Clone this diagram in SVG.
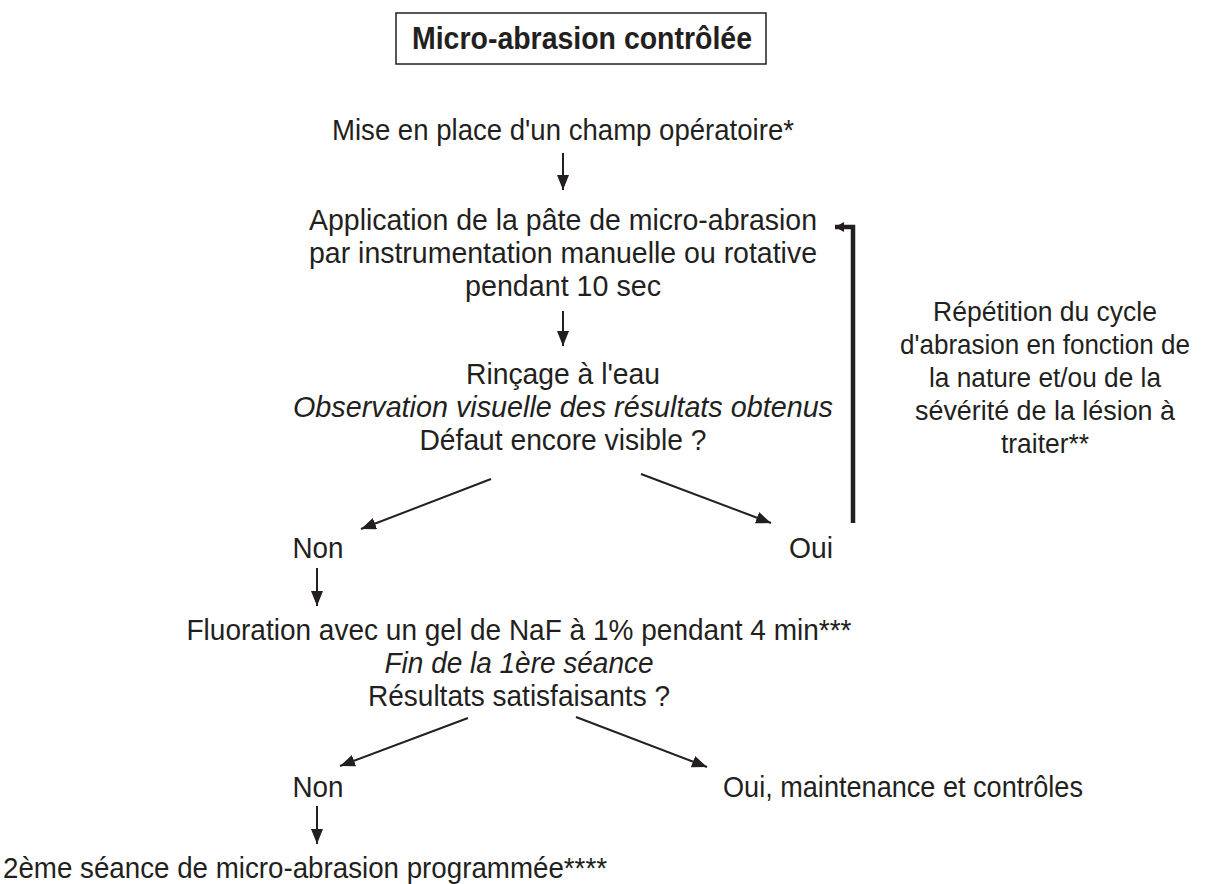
<svg xmlns="http://www.w3.org/2000/svg" width="1209" height="884" viewBox="0 0 1209 884">
<style>
  text { font-family: "Liberation Sans", Arial, sans-serif; font-size: 30px; fill: #231f20; }
  .c { text-anchor: middle; }
  .i { font-style: italic; }
  .b { font-weight: bold; font-size: 32px; }
  .r { font-size: 27.5px; }
  .ln { stroke: #231f20; stroke-width: 2; fill: none; }
  .thick { stroke: #231f20; stroke-width: 4.5; fill: none; }
</style>
<defs>
  <marker id="ah" markerUnits="userSpaceOnUse" markerWidth="16" markerHeight="12" refX="15" refY="6" orient="auto">
    <path d="M0,0 L15,6 L0,12 Z" fill="#231f20"/>
  </marker>
  <marker id="ahs" markerUnits="userSpaceOnUse" markerWidth="10" markerHeight="10" refX="9" refY="5" orient="auto">
    <path d="M0,0 L9,5 L0,10 Z" fill="#231f20"/>
  </marker>
</defs>
<rect width="1209" height="884" fill="#ffffff"/>

<g id="title">
  <rect x="396" y="13" width="370" height="51" fill="#ffffff" stroke="#231f20" stroke-width="1.5"/>
  <text class="b c" x="582" y="49" textLength="340" lengthAdjust="spacingAndGlyphs">Micro-abrasion contrôlée</text>
</g>

<g id="champ">
  <text class="c" x="563" y="140" textLength="462" lengthAdjust="spacingAndGlyphs">Mise en place d'un champ opératoire*</text>
</g>

<g id="application">
  <text class="c" x="563" y="230" textLength="508" lengthAdjust="spacingAndGlyphs">Application de la pâte de micro-abrasion</text>
  <text class="c" x="563" y="263" textLength="508" lengthAdjust="spacingAndGlyphs">par instrumentation manuelle ou rotative</text>
  <text class="c" x="563" y="296" textLength="196" lengthAdjust="spacingAndGlyphs">pendant 10 sec</text>
</g>

<g id="rincage">
  <text class="c" x="563" y="384" textLength="194" lengthAdjust="spacingAndGlyphs">Rinçage à l'eau</text>
  <text class="c i" x="563" y="417" textLength="540" lengthAdjust="spacingAndGlyphs">Observation visuelle des résultats obtenus</text>
  <text class="c" x="563" y="450" textLength="287" lengthAdjust="spacingAndGlyphs">Défaut encore visible ?</text>
</g>

<g id="repetition">
  <text class="c r" x="1045" y="321" textLength="224" lengthAdjust="spacingAndGlyphs">Répétition du cycle</text>
  <text class="c r" x="1045" y="354" textLength="290" lengthAdjust="spacingAndGlyphs">d'abrasion en fonction de</text>
  <text class="c r" x="1045" y="387" textLength="232" lengthAdjust="spacingAndGlyphs">la nature et/ou de la</text>
  <text class="c r" x="1045" y="420" textLength="260" lengthAdjust="spacingAndGlyphs">sévérité de la lésion à</text>
  <text class="c r" x="1045" y="453" textLength="88" lengthAdjust="spacingAndGlyphs">traiter**</text>
</g>

<g id="non1">
  <text class="c" x="318" y="558" textLength="51" lengthAdjust="spacingAndGlyphs">Non</text>
</g>

<g id="oui1">
  <text class="c" x="811" y="558" textLength="44" lengthAdjust="spacingAndGlyphs">Oui</text>
</g>

<g id="fluoration">
  <text class="c" x="519" y="640" textLength="665" lengthAdjust="spacingAndGlyphs">Fluoration avec un gel de NaF à 1% pendant 4 min***</text>
  <text class="c i" x="519" y="673" textLength="269" lengthAdjust="spacingAndGlyphs">Fin de la 1ère séance</text>
  <text class="c" x="519" y="706" textLength="302" lengthAdjust="spacingAndGlyphs">Résultats satisfaisants ?</text>
</g>

<g id="non2">
  <text class="c" x="318" y="797" textLength="51" lengthAdjust="spacingAndGlyphs">Non</text>
</g>

<g id="oui2">
  <text x="723" y="797" textLength="360" lengthAdjust="spacingAndGlyphs">Oui, maintenance et contrôles</text>
</g>

<g id="seance2">
  <text x="3" y="878" textLength="604" lengthAdjust="spacingAndGlyphs">2ème séance de micro-abrasion programmée****</text>
</g>

<g id="connectors">
  <line class="ln" x1="563" y1="153" x2="563" y2="190" marker-end="url(#ah)"/>
  <line class="ln" x1="563" y1="311" x2="563" y2="346" marker-end="url(#ah)"/>
  <line class="ln" x1="491" y1="479" x2="361" y2="529" marker-end="url(#ah)"/>
  <line class="ln" x1="641" y1="474" x2="771" y2="523" marker-end="url(#ah)"/>
  <polyline class="thick" points="853,523 853,227 835,227" marker-end="url(#ahs)"/>
  <line class="ln" x1="317" y1="568" x2="317" y2="606" marker-end="url(#ah)"/>
  <line class="ln" x1="468" y1="718" x2="340" y2="766" marker-end="url(#ah)"/>
  <line class="ln" x1="576" y1="717" x2="707" y2="767" marker-end="url(#ah)"/>
  <line class="ln" x1="317" y1="806" x2="317" y2="844" marker-end="url(#ah)"/>
</g>
</svg>
